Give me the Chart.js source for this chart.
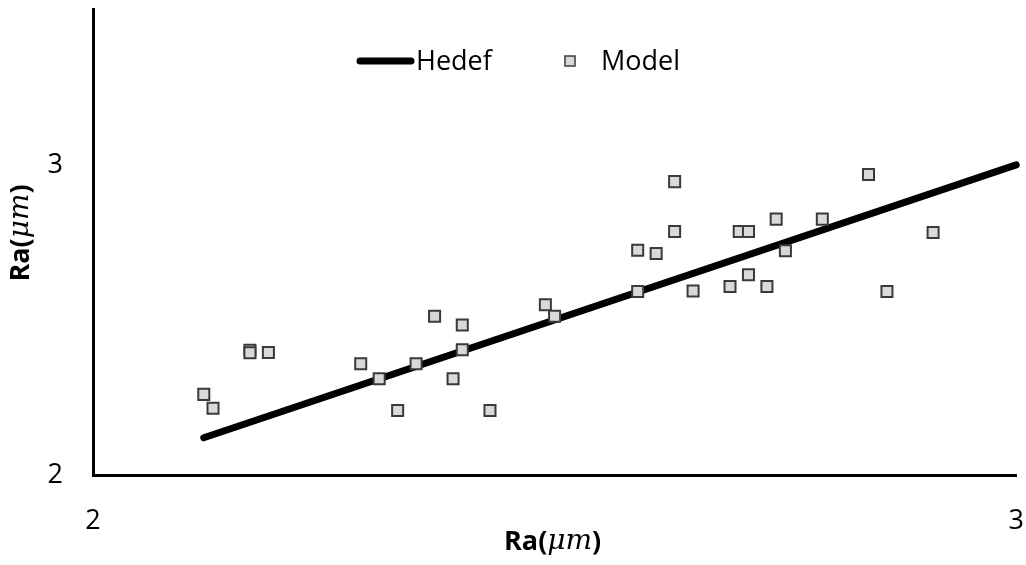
<!DOCTYPE html>
<html>
<head>
<meta charset="utf-8">
<style>
  html, body { margin: 0; padding: 0; background: #fff; }
  #wrap { width: 1026px; height: 565px; position: relative; }
</style>
<script src="https://cdn.jsdelivr.net/npm/chart.js@4/dist/chart.umd.min.js"></script>
</head>
<body>
<div id="wrap"><canvas id="c" width="1026" height="565"></canvas></div>
<script>
// Target line (Hedef): y = x over the measured range
const targetX = [2.12, 3.0];
const targetY = [2.12, 3.0];

// Model predictions (Model)
const modelX = [2.12, 2.13, 2.17, 2.17, 2.19, 2.29, 2.31, 2.33, 2.35, 2.37, 2.39, 2.40, 2.40, 2.43,
                2.49, 2.50, 2.59, 2.59, 2.61, 2.63, 2.63, 2.65, 2.69, 2.70, 2.71, 2.71, 2.73, 2.74,
                2.75, 2.79, 2.84, 2.86, 2.91];
const modelY = [2.26, 2.215, 2.402, 2.394, 2.395, 2.359, 2.31, 2.208, 2.359, 2.512, 2.31, 2.484, 2.404, 2.208,
                2.549, 2.512, 2.725, 2.592, 2.714, 2.946, 2.785, 2.593, 2.608, 2.785, 2.785, 2.646, 2.608, 2.825,
                2.723, 2.825, 2.969, 2.592, 2.782];

// Axis ticks
const xTicks = [2, 3];
const yTicks = [2, 3];

const seriesLabels = ['Hedef', 'Model'];
const axisTitle = { bold1: 'Ra(', italic: 'μm', bold2: ')' };

const FONT = "'Open Sans', 'Noto Sans', sans-serif";
const markerFill = '#d9d9d9';
const markerEdge = '#3a3a3a';

function toPoints(xs, ys) { return xs.map((x, i) => ({ x: x, y: ys[i] })); }

// Keep the tick labels from pushing the plot area inwards
function noScalePadding(scale) {
  scale.paddingLeft = 0;
  scale.paddingRight = 0;
  scale.paddingTop = 0;
  scale.paddingBottom = 0;
}

// Draws "Ra(μm)" with bold upright and italic parts, centred at (cx, cy)
function drawMixedTitle(ctx, cx, cy, rotate) {
  const parts = [
    { t: axisTitle.bold1, f: "bold 27px " + FONT },
    { t: axisTitle.italic, f: "italic 28px 'DejaVu Serif', 'Liberation Serif', serif" },
    { t: axisTitle.bold2, f: "bold 27px " + FONT }
  ];
  ctx.save();
  let total = 0;
  parts.forEach(p => { ctx.font = p.f; p.w = ctx.measureText(p.t).width; total += p.w; });
  ctx.translate(cx, cy);
  if (rotate) ctx.rotate(-Math.PI / 2);
  ctx.fillStyle = '#000';
  ctx.textBaseline = 'middle';
  ctx.textAlign = 'left';
  let x = -total / 2;
  parts.forEach(p => { ctx.font = p.f; ctx.fillText(p.t, x, 0); x += p.w; });
  ctx.restore();
}

const decorations = {
  id: 'decorations',
  afterDraw(chart) {
    const ctx = chart.ctx;
    const area = chart.chartArea;
    // axis titles
    drawMixedTitle(ctx, (area.left + area.right) / 2 - 2, 542, false);
    drawMixedTitle(ctx, 21, 233, true);

    // legend
    const ly = 61;
    const ds0 = chart.data.datasets[0];
    const ds1 = chart.data.datasets[1];
    ctx.save();
    ctx.lineCap = 'round';
    ctx.strokeStyle = ds0.borderColor;
    ctx.lineWidth = ds0.borderWidth;
    ctx.beginPath();
    ctx.moveTo(360, ly);
    ctx.lineTo(411, ly);
    ctx.stroke();
    ctx.font = '27px ' + FONT;
    ctx.fillStyle = '#000';
    ctx.textBaseline = 'middle';
    ctx.fillText(ds0.label, 416, ly + 1);
    // marker
    ctx.fillStyle = ds1.backgroundColor;
    ctx.strokeStyle = ds1.borderColor;
    ctx.lineWidth = 1.5;
    ctx.fillRect(565, ly - 5, 10, 10);
    ctx.strokeRect(565, ly - 5, 10, 10);
    ctx.fillStyle = '#000';
    ctx.fillText(ds1.label, 601, ly + 1);
    ctx.restore();
  }
};

new Chart(document.getElementById('c'), {
  type: 'scatter',
  data: {
    datasets: [
      {
        label: seriesLabels[0],
        type: 'line',
        data: toPoints(targetX, targetY),
        borderColor: '#000',
        backgroundColor: '#000',
        borderWidth: 7,
        borderCapStyle: 'round',
        pointRadius: 0,
        fill: false,
        clip: false,
        order: 1
      },
      {
        label: seriesLabels[1],
        data: toPoints(modelX, modelY),
        pointStyle: 'rect',
        pointRadius: 7.8,
        pointHoverRadius: 7.8,
        backgroundColor: markerFill,
        borderColor: markerEdge,
        borderWidth: 2,
        order: 0
      }
    ]
  },
  options: {
    responsive: false,
    animation: false,
    devicePixelRatio: 1,
    layout: { padding: { left: 0, right: 9, top: 6, bottom: 0 } },
    plugins: {
      legend: { display: false },
      tooltip: { enabled: false }
    },
    scales: {
      x: {
        type: 'linear',
        min: 2,
        max: 3,
        afterBuildTicks(scale) { scale.ticks = xTicks.map(v => ({ value: v })); },
        afterFit(scale) { scale.height = 90; noScalePadding(scale); },
        grid: { display: false, drawTicks: false },
        border: { display: true, color: '#000', width: 3 },
        ticks: { padding: 30, color: '#000', font: { family: FONT, size: 27 } }
      },
      y: {
        type: 'linear',
        min: 2,
        max: 3.5,
        afterBuildTicks(scale) { scale.ticks = yTicks.map(v => ({ value: v })); },
        afterFit(scale) { scale.width = 93; noScalePadding(scale); },
        grid: { display: false, drawTicks: false },
        border: { display: true, color: '#000', width: 3 },
        ticks: { padding: 30, color: '#000', font: { family: FONT, size: 27 } }
      }
    }
  },
  plugins: [decorations]
});
</script>
</body>
</html>
